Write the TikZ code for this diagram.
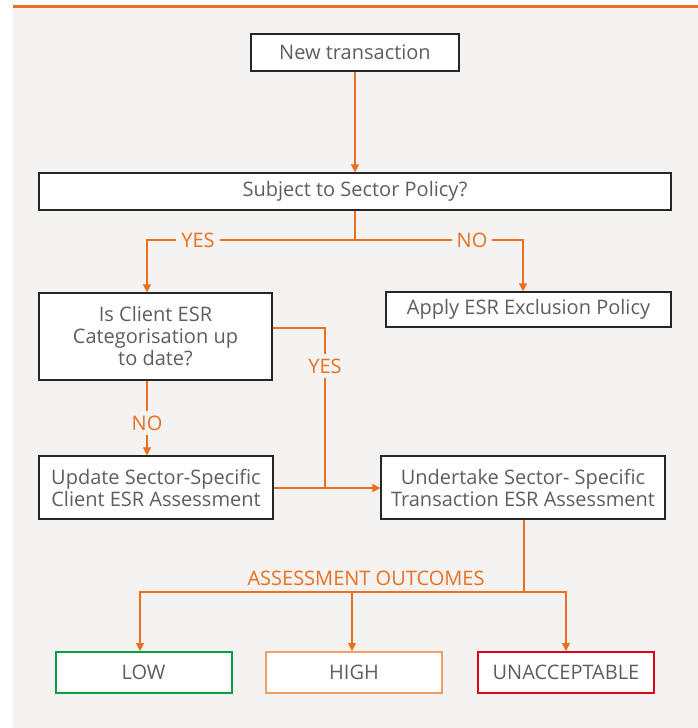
\documentclass[tikz,border=0pt]{standalone}
\usepackage{fontspec}
\setmainfont{Open Sans}
\usetikzlibrary{arrows.meta}
\usetikzlibrary{positioning}
\definecolor{panelgrey}{HTML}{F4F3F1}
\definecolor{flowline}{HTML}{EA7020}
\definecolor{boxtext}{HTML}{5E5E5E}
\definecolor{lowgreen}{HTML}{00A03E}
\definecolor{highorange}{HTML}{F29D62}
\definecolor{nogored}{HTML}{E2001A}
\tikzset{
    process/.style = {draw=black!85, fill=white, line width=1.2pt,
                      text=boxtext, align=center, inner sep=2pt,
                      font=\fontsize{20}{22}\selectfont
    },
    outcome/.style = {process, line width=2pt,
                      minimum width=176pt, minimum height=41pt
    },
    flow/.style = {draw=flowline, line width=1.1pt},
    flow arrow/.style = {flow, -{Triangle[width=8pt,length=8pt]}},
    branch label/.style = {fill=panelgrey, text=flowline, inner sep=5pt,
                           font=\fontsize{20}{22}\selectfont
    },
}
\begin{document}
\begin{tikzpicture}[x=1pt, y=-1pt]
        \useasboundingbox (0,0) rectangle (698,728);
        \fill[panelgrey] (13,8) rectangle (698,728);
        \draw[flowline, line width=3pt] (13,6.5) -- (698,6.5);
        % boxes
        \node (new) [process, minimum width=208pt, minimum height=37pt]
              at (355,52.5) {New transaction};
        \node (sector) [process, minimum width=632pt, minimum height=37pt]
              at (355,191.5) {Subject to Sector Policy?};
        \node (client) [process, minimum width=233pt, minimum height=87pt]
              at (155.5,336.5) {Is Client ESR\\Categorisation up\\to date?};
        \node (exclude) [process, minimum width=285pt, minimum height=35pt]
              at (528.5,309.5) {Apply ESR Exclusion Policy};
        \node (update) [process, minimum width=234pt, minimum height=63pt]
              at (156,487.5) {Update Sector-Specific\\Client ESR Assessment};
        \node (undertake) [process, minimum width=284pt, minimum height=63pt]
              at (523,487.5) {Undertake Sector- Specific\\Transaction ESR Assessment};
        \node (low) [outcome, draw=lowgreen] at (143.5,672.5) {LOW};
        \node (high) [outcome, draw=highorange] at (354,672.5) {HIGH};
        \node (unacc) [outcome, draw=nogored] at (566,672.5) {UNACCEPTABLE};
        % junctions
        \coordinate (split) at (355,240);
        \coordinate (merge) at (325,488);
        \coordinate (fan) at (524,592);
        % connectors
        \draw[flow arrow] (new) -- (sector);
        \draw[flow] (sector) -- (split);
        \draw[flow arrow] (split) -| (client.north -| 147,0);
        \draw[flow arrow] (split) -| (exclude.north -| 523,0);
        \node (yes1) [branch label] at (198,240) {YES};
        \node (no1) [branch label] at (472,240) {NO};
        \draw[flow arrow] (client.south -| 147,0) -- (update.north -| 147,0);
        \node (no2) [branch label] at (147,423) {NO};
        \draw[flow] (client.east |- 0,328) -| (merge);
        \node (yes2) [branch label] at (325,366) {YES};
        \draw[flow arrow] (update.east |- merge) -- (undertake.west |- merge);
        \draw[flow] (undertake.south -| fan) -- (fan);
        \draw[flow arrow] (fan) -| (low.north -| 140,0);
        \draw[flow arrow] (fan) -| (high.north -| 352,0);
        \draw[flow arrow] (fan) -| (unacc);
        \node (outcomes) [text=flowline, font=\fontsize{20}{22}\selectfont,
                          anchor=base] at (366,585) {ASSESSMENT OUTCOMES};
\end{tikzpicture}
\end{document}
